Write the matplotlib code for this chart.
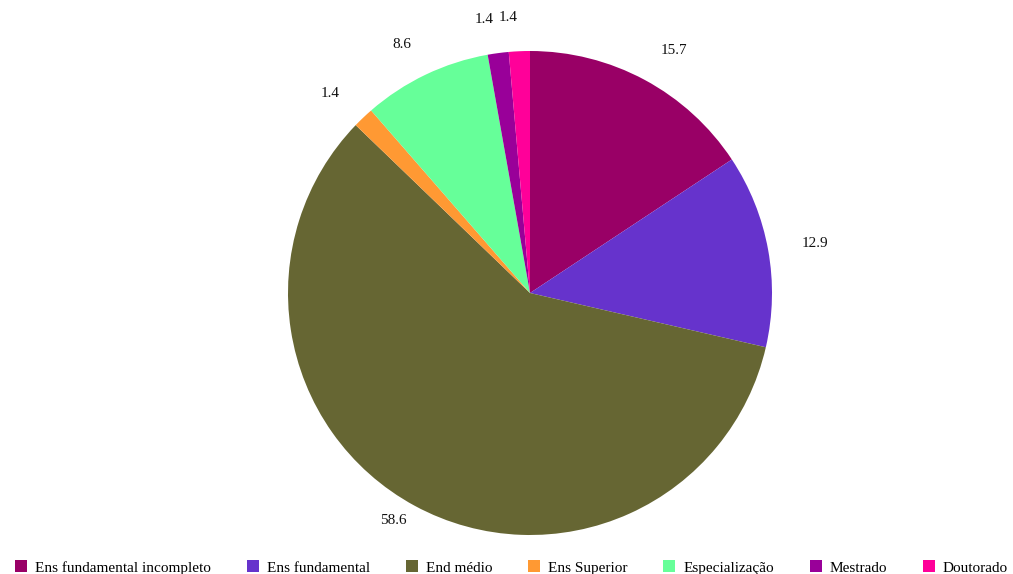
import matplotlib.pyplot as plt
from matplotlib.patches import Patch

plt.rcParams['font.family'] = ['Liberation Serif', 'DejaVu Serif']

categorias = ['Ens fundamental incompleto', 'Ens fundamental', 'End médio',
              'Ens Superior', 'Especialização', 'Mestrado', 'Doutorado']
valores = [15.7, 12.9, 58.6, 1.4, 8.6, 1.4, 1.4]
cores = ['#990066', '#6633CC', '#666633', '#FF9933', '#66FF99', '#990099', '#FF0099']

fig = plt.figure(figsize=(10.13, 5.74), dpi=100)
# centro ~ (530, 293) px, raio ~ 242 px
cx, cy, r = 530 / 1013, 1 - 293 / 574, 242
ax = fig.add_axes([cx - r / 1013, cy - r / 574, 2 * r / 1013, 2 * r / 574])

dist = 1.14
wedges, textos = ax.pie(valores, colors=cores, startangle=90, counterclock=False,
                        labels=[f'{v:.1f}' for v in valores], labeldistance=dist,
                        textprops={'fontsize': 11, 'color': '#111111'})
# rótulo do maior setor fica mais perto da borda
x, y = textos[2].get_position()
textos[2].set_position((x * 1.07 / dist, y * 1.07 / dist))

ax.set_xlim(-1, 1)
ax.set_ylim(-1, 1)
ax.set_aspect('equal')

handles = [Patch(facecolor=c, edgecolor='none') for c in cores]
fig.legend(handles, categorias, loc='lower center', ncol=7, frameon=False,
           fontsize=11, handlelength=0.8, handleheight=0.8, handletextpad=0.5,
           columnspacing=2.35, bbox_to_anchor=(0.505, -0.025))

fig.savefig('out.png', dpi=100)
